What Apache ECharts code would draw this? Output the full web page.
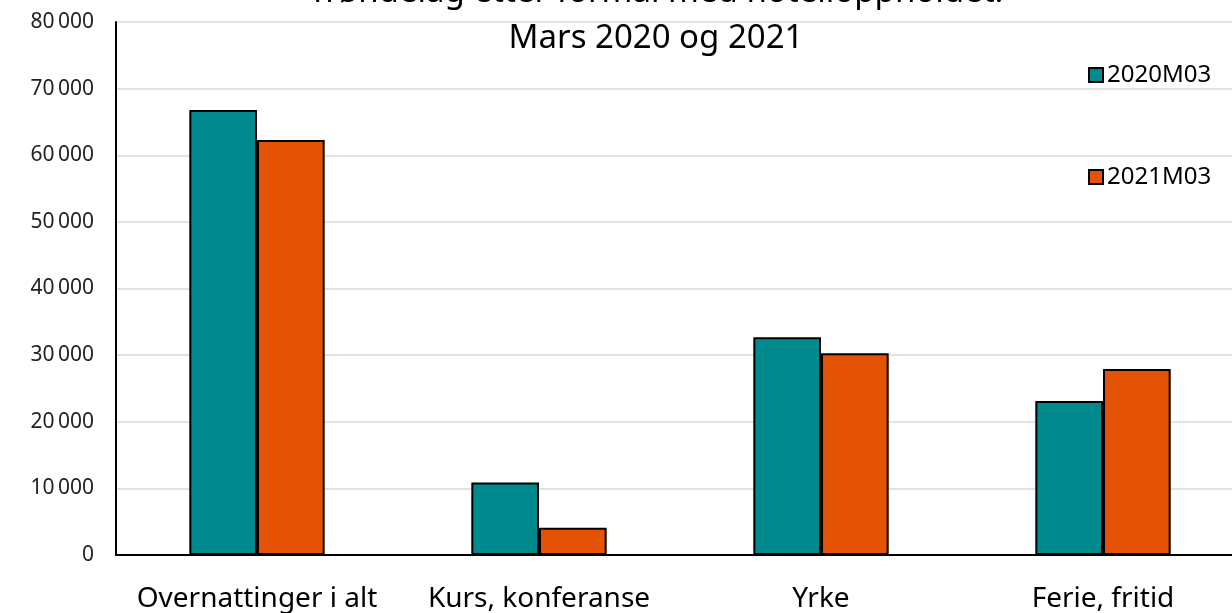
<!DOCTYPE html>
<html>
<head>
<meta charset="utf-8">
<script src="https://cdn.jsdelivr.net/npm/echarts@6/dist/echarts.min.js"></script>
<style>
  html, body { margin: 0; padding: 0; background: #fff; overflow: hidden; }
  /* plottet fortsetter litt forbi høyre kant, som i originalen */
  #chart { width: 1244px; height: 613px; }
</style>
</head>
<body>
<div id="chart"></div>
<script>
// kategorier og verdier (lest av figuren)
var categories = ['Overnattinger i alt', 'Kurs, konferanse', 'Yrke', 'Ferie, fritid'];
var values2020 = [66800, 10900, 32700, 23100];
var values2021 = [62300, 4100, 30300, 27900];
var seriesNames = ['2020M03', '2021M03'];
var yTicks = [0, 10000, 20000, 30000, 40000, 50000, 60000, 70000, 80000];

var chart = echarts.init(document.getElementById('chart'));

function fmt(v) {
    if (v === 0) return '0';
    var s = String(v);
    return s.slice(0, s.length - 3) + '\u2009' + s.slice(-3);
}

var option = {
    animation: false,
    textStyle: { fontFamily: 'Noto Sans' },
    title: {
        text: 'Trøndelag etter formål med hotelloppholdet:\nMars 2020 og 2021',
        left: 651,
        textAlign: 'center',
        top: -35,
        textStyle: { fontSize: 33, fontWeight: 'normal', color: '#000', lineHeight: 46, fontFamily: 'Noto Sans' }
    },
    legend: {
        orient: 'vertical',
        left: 1083,
        top: 58,
        itemGap: 78,
        itemWidth: 14,
        itemHeight: 14,
        icon: 'rect',
        textStyle: { fontSize: 24, color: '#000', padding: [0, 0, 0, -1] },
        data: seriesNames
    },
    grid: { left: 116, top: 22, right: 0, bottom: 58 },
    xAxis: {
        type: 'category',
        data: categories,
        axisLine: { lineStyle: { color: '#000', width: 2 } },
        axisTick: { show: false },
        axisLabel: { fontSize: 28, color: '#000', margin: 30, interval: 0 }
    },
    yAxis: {
        type: 'value',
        min: yTicks[0],
        max: yTicks[yTicks.length - 1],
        interval: 10000,
        axisLine: { show: true, lineStyle: { color: '#000', width: 2 } },
        axisTick: { show: false },
        splitLine: { lineStyle: { color: '#d9d9d9', width: 1.5 } },
        axisLabel: { fontSize: 21, color: '#222', margin: 22, formatter: fmt }
    },
    series: [
        {
            name: seriesNames[0],
            type: 'bar',
            data: values2020,
            barGap: '0%',
            barCategoryGap: '52%',
            itemStyle: { color: '#008A8E', borderColor: '#000', borderWidth: 2 }
        },
        {
            name: seriesNames[1],
            type: 'bar',
            data: values2021,
            itemStyle: { color: '#E35205', borderColor: '#000', borderWidth: 2 }
        }
    ]
};

chart.setOption(option);
</script>
</body>
</html>
